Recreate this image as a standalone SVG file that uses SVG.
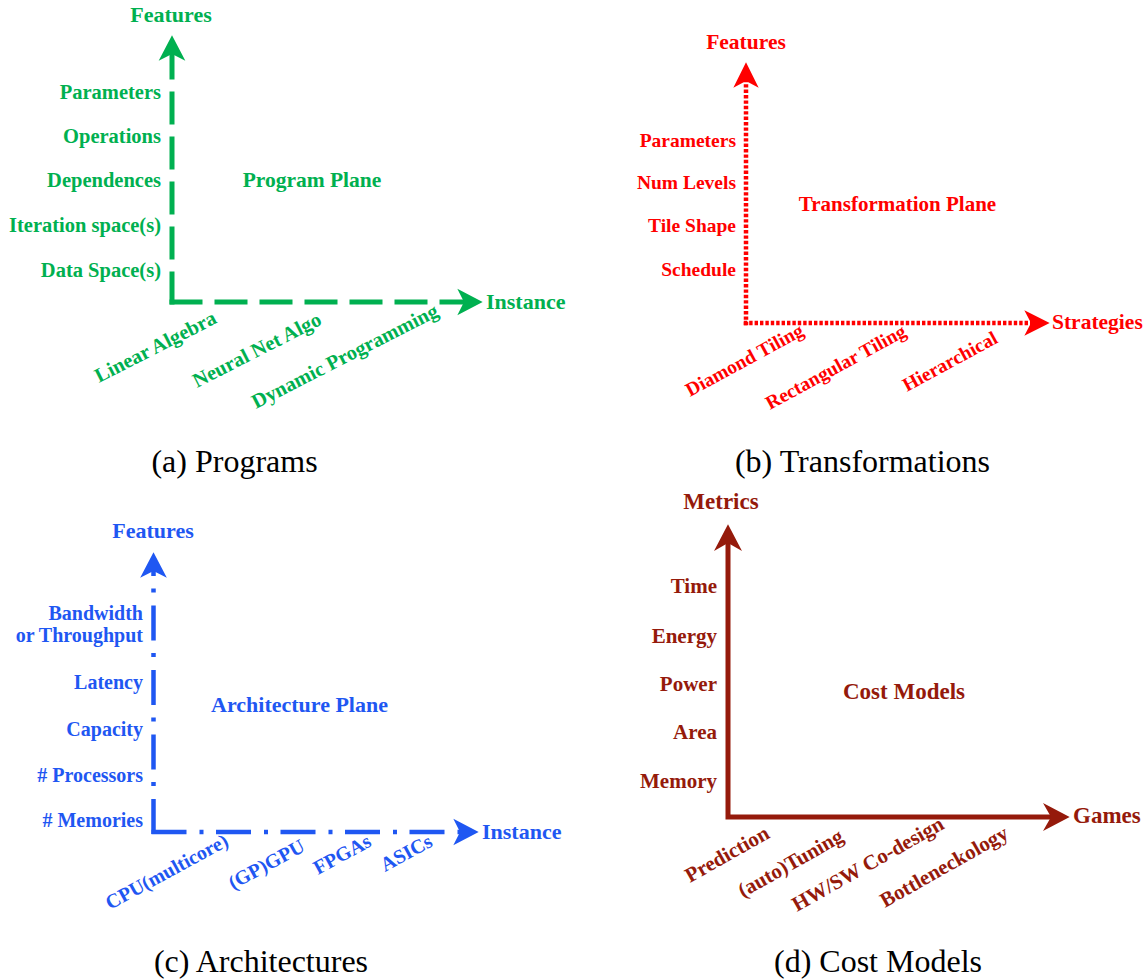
<svg xmlns="http://www.w3.org/2000/svg" width="1148" height="980" viewBox="0 0 1148 980">
  <style>
    .lbl { font-family: "Liberation Serif", "Times New Roman", serif; font-weight: bold; }
    .cap { font-family: "Liberation Serif", "Times New Roman", serif; font-size: 32px; fill: #000; text-anchor: middle; }
    .end { text-anchor: end; }
    .mid { text-anchor: middle; }
    .green { fill: #00B050; }
    .red { fill: #FF0000; }
    .blue { fill: #1F57F2; }
    .dred { fill: #951A0B; }
    .axis { fill: none; stroke-linejoin: miter; }
  </style>
  <defs>
    <!-- notched arrowheads; origin sits at the notch, tip 14px ahead -->
    <marker id="ah-green" markerUnits="userSpaceOnUse" markerWidth="40" markerHeight="40" viewBox="-10 -15 30 30" refX="0" refY="0" orient="auto" overflow="visible">
      <path d="M14,0 L-5,-10 L0,0 L-5,10 Z" fill="#00B050"/>
    </marker>
    <marker id="ah-red" markerUnits="userSpaceOnUse" markerWidth="40" markerHeight="40" viewBox="-10 -15 30 30" refX="0" refY="0" orient="auto" overflow="visible">
      <path d="M14,0 L-5,-9.5 L0,0 L-5,9.5 Z" fill="#FF0000"/>
    </marker>
    <marker id="ah-blue" markerUnits="userSpaceOnUse" markerWidth="40" markerHeight="40" viewBox="-10 -15 30 30" refX="0" refY="0" orient="auto" overflow="visible">
      <path d="M14,0 L-5,-10 L0,0 L-5,10 Z" fill="#1F57F2"/>
    </marker>
    <marker id="ah-dred" markerUnits="userSpaceOnUse" markerWidth="40" markerHeight="40" viewBox="-10 -15 30 30" refX="0" refY="0" orient="auto-start-reverse" overflow="visible">
      <path d="M14,0 L-6,-10.5 L0,0 L-6,10.5 Z" fill="#951A0B"/>
    </marker>
  </defs>

  <!-- axes -->
  <g id="connectors">
    <!-- (a) dashed -->
    <path class="axis" d="M172,304.5 L172,54" stroke="#00B050" stroke-width="5" stroke-dasharray="33 12" marker-end="url(#ah-green)"/>
    <path class="axis" d="M169.5,302 L464,302" stroke="#00B050" stroke-width="5" stroke-dasharray="33 12" marker-end="url(#ah-green)"/>
    <!-- (b) square dots -->
    <path class="axis" d="M746,325.2 L746,81" stroke="#FF0000" stroke-width="4.5" stroke-dasharray="3.4 2" marker-end="url(#ah-red)"/>
    <path class="axis" d="M743.8,323 L1031,323" stroke="#FF0000" stroke-width="4.5" stroke-dasharray="3.4 2" marker-end="url(#ah-red)"/>
    <!-- (c) dash-dot -->
    <path class="axis" d="M153.5,834 L153.5,571" stroke="#1F57F2" stroke-width="4.5" stroke-dasharray="35 13 4 12.5" marker-end="url(#ah-blue)"/>
    <path class="axis" d="M151.5,832 L460,832" stroke="#1F57F2" stroke-width="4.5" stroke-dasharray="35 13 4 12.5" marker-end="url(#ah-blue)"/>
    <!-- (d) solid elbow -->
    <path class="axis" d="M728,543 L728,817 L1051,817" stroke="#951A0B" stroke-width="5" marker-start="url(#ah-dred)" marker-end="url(#ah-dred)"/>
  </g>

  <!-- (a) Programs -->
  <g id="programs" class="lbl green">
    <text x="171" y="22" class="mid" font-size="22">Features</text>
    <g class="end" font-size="20.5">
      <text x="161" y="99">Parameters</text>
      <text x="161" y="143">Operations</text>
      <text x="161" y="187">Dependences</text>
      <text x="161" y="232">Iteration space(s)</text>
      <text x="161" y="277">Data Space(s)</text>
    </g>
    <text x="312" y="187" class="mid" font-size="21.5">Program Plane</text>
    <text x="486" y="309" font-size="22">Instance</text>
    <g font-size="20.5">
      <text transform="translate(99,383) rotate(-27)">Linear Algebra</text>
      <text transform="translate(197,388) rotate(-27)">Neural Net Algo</text>
      <text transform="translate(256,409) rotate(-27)">Dynamic Programming</text>
    </g>
  </g>

  <!-- (b) Transformations -->
  <g id="transformations" class="lbl red">
    <text x="746" y="49" class="mid" font-size="21.5">Features</text>
    <g class="end" font-size="19.5">
      <text x="736" y="147">Parameters</text>
      <text x="736" y="189">Num Levels</text>
      <text x="736" y="232">Tile Shape</text>
      <text x="736" y="276">Schedule</text>
    </g>
    <text x="897.5" y="211" class="mid" font-size="21">Transformation Plane</text>
    <text x="1052" y="329" font-size="21.5">Strategies</text>
    <g font-size="19.5">
      <text transform="translate(690,397) rotate(-28.5)">Diamond Tiling</text>
      <text transform="translate(770,410) rotate(-28.5)">Rectangular Tiling</text>
      <text transform="translate(907,392) rotate(-28.5)">Hierarchical</text>
    </g>
  </g>

  <!-- (c) Architectures -->
  <g id="architectures" class="lbl blue">
    <text x="153" y="538" class="mid" font-size="22">Features</text>
    <g class="end" font-size="20">
      <text x="143" y="620">Bandwidth</text>
      <text x="143" y="642">or Throughput</text>
      <text x="143" y="689">Latency</text>
      <text x="143" y="736">Capacity</text>
      <text x="143" y="782"># Processors</text>
      <text x="143" y="827"># Memories</text>
    </g>
    <text x="299.5" y="712" class="mid" font-size="22">Architecture Plane</text>
    <text x="482" y="839" font-size="22">Instance</text>
    <g font-size="20">
      <text transform="translate(110,910) rotate(-28.5)">CPU(multicore)</text>
      <text transform="translate(233,890) rotate(-28.5)">(GP)GPU</text>
      <text transform="translate(318,875) rotate(-28.5)">FPGAs</text>
      <text transform="translate(385,872) rotate(-28.5)">ASICs</text>
    </g>
  </g>

  <!-- (d) Cost Models -->
  <g id="cost-models" class="lbl dred">
    <text x="721" y="509" class="mid" font-size="23">Metrics</text>
    <g class="end" font-size="21">
      <text x="717" y="593">Time</text>
      <text x="717" y="643">Energy</text>
      <text x="717" y="691">Power</text>
      <text x="717" y="739">Area</text>
      <text x="717" y="788">Memory</text>
    </g>
    <text x="904" y="699" class="mid" font-size="23">Cost Models</text>
    <text x="1073" y="823" font-size="23">Games</text>
    <g font-size="21">
      <text transform="translate(690,883) rotate(-29.5)">Prediction</text>
      <text transform="translate(743,898) rotate(-29.5)">(auto)Tuning</text>
      <text transform="translate(797,912) rotate(-29.5)">HW/SW Co-design</text>
      <text transform="translate(885,908) rotate(-29.5)">Bottleneckology</text>
    </g>
  </g>

  <!-- sub-figure captions -->
  <g id="captions">
    <text class="cap" x="234.5" y="472">(a) Programs</text>
    <text class="cap" x="862.5" y="472">(b) Transformations</text>
    <text class="cap" x="261" y="972">(c) Architectures</text>
    <text class="cap" x="878" y="972">(d) Cost Models</text>
  </g>
</svg>
